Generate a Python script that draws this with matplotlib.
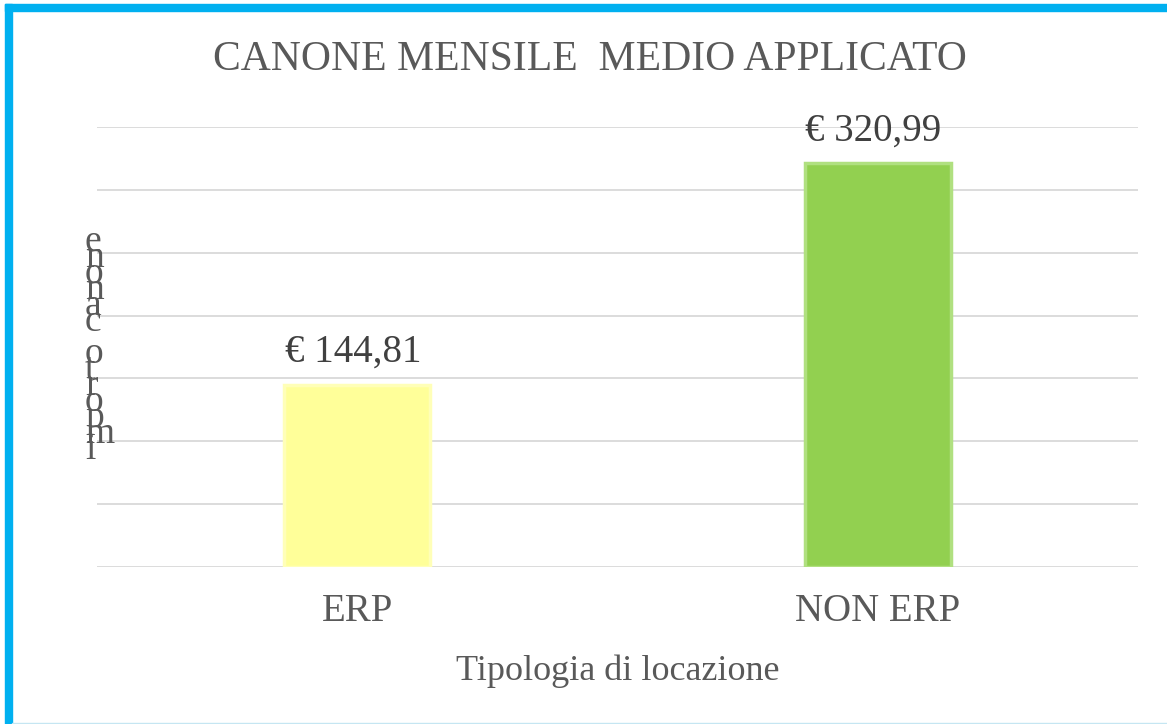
import matplotlib.pyplot as plt
from matplotlib.patches import Rectangle

plt.rcParams["font.family"] = ["Liberation Serif", "DejaVu Serif"]

# Data
categories = ["ERP", "NON ERP"]
values = [144.81, 320.99]
labels = ["€ 144,81", "€ 320,99"]
bar_colors = ["#FFFF99", "#92D050"]
edge_colors = ["#FFFFB8", "#B0E080"]
y_ticks = [0, 50, 100, 150, 200, 250, 300, 350]

TEXT = "#595959"
GRID = "#D9D9D9"
BLUE = "#00B0F0"

W, H = 1167, 724
fig = plt.figure(figsize=(W / 100, H / 100), dpi=100)
ax = fig.add_axes([97 / W, 1 - 567 / H, (1138 - 97) / W, (567 - 127) / H])

x = range(len(categories))
ax.bar(x, values, width=0.28, color=bar_colors, edgecolor=edge_colors,
       linewidth=2.5, zorder=3)

for xi, v, lab in zip(x, values, labels):
    ax.annotate(lab, (xi, v), xytext=(-3, 10), textcoords="offset points",
                ha="center", va="bottom", fontsize=28, color="#404040")

ax.set_xlim(-0.5, 1.5)
ax.set_ylim(0, 350)
ax.set_yticks(y_ticks)
ax.yaxis.grid(True, color=GRID, linewidth=1.3)
ax.set_axisbelow(True)
ax.tick_params(axis="y", length=0, labelleft=False)
ax.tick_params(axis="x", length=0, pad=19, labelsize=28, labelcolor=TEXT)
ax.set_xticks(list(x))
ax.set_xticklabels(categories)
for s in ax.spines.values():
    s.set_visible(False)

ax.set_xlabel("Tipologia di locazione", fontsize=26, color=TEXT, labelpad=17)

fig.text(590 / W, 1 - 60 / H, "CANONE MENSILE  MEDIO APPLICATO",
         ha="center", va="center", fontsize=30, color=TEXT)

# stacked (reversed) y label as in the original
ylab = "importo canone"[::-1]
for i, ch in enumerate(ylab):
    fig.text(85 / W, 1 - (251 + i * 16) / H, ch, ha="left", va="baseline",
             fontsize=27, color=TEXT)

# blue frame
fig.patches.append(Rectangle((5 / W, 0), 7 / W, 1 - 4 / H, transform=fig.transFigure,
                             color=BLUE, zorder=0))
fig.patches.append(Rectangle((5 / W, 1 - 11 / H), 1 - 5 / W, 7 / H,
                             transform=fig.transFigure, color=BLUE, zorder=0))
fig.patches.append(Rectangle((12 / W, 0), 1 - 12 / W, 1.5 / H, transform=fig.transFigure,
                             color="#C5E6F2", zorder=0))

fig.savefig("out.png", dpi=100)
